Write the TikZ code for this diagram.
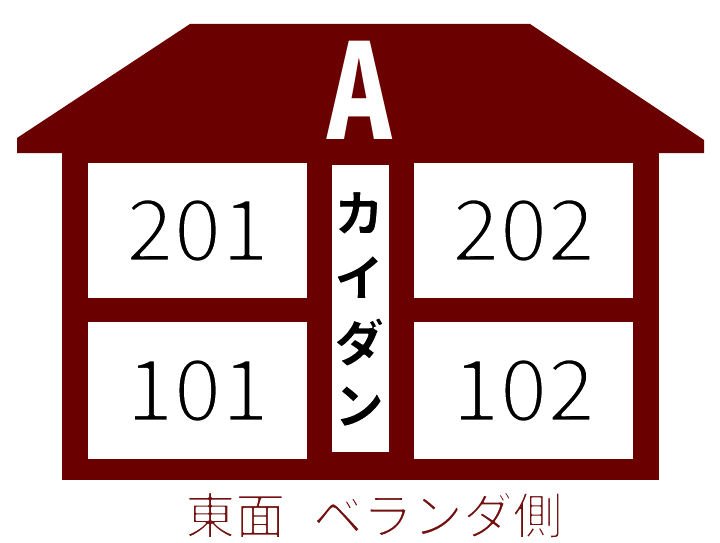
\documentclass[tikz,border=0pt]{standalone}
\usepackage{fontspec}
\newfontfamily\jp{Noto Sans CJK JP}
\definecolor{roof}{RGB}{107,0,0}
\definecolor{captionred}{RGB}{115,16,16}
% thin the glyphs by stroking them in white over their fill
\newcommand{\thinglyph}[2]{\special{pdf:code q 2 Tr 1 1 1 RG #1 w 1 J 1 j}#2\special{pdf:code Q}}
\begin{document}
\begin{tikzpicture}[x=1pt,y=-1pt,
  room/.style={fill=white, draw=none, inner sep=0, minimum width=219pt,
    font=\jp\fontsize{86}{86}\selectfont},
  kana/.style={font=\jp\bfseries\fontsize{50}{50}\selectfont, inner sep=0}]
\useasboundingbox (0,0) rectangle (720,543);
% roof and body
\fill[roof] (17,138) -- (190,24) -- (530,24) -- (704,140) -- (704,153) -- (17,153) -- cycle;
\fill[roof] (62,150) rectangle (659,480);
% rooms
\node[room, minimum height=135pt] (r201) at (197.5,230.5) {\thinglyph{3}{201}};
\node[room, minimum height=135pt] (r202) at (523.5,230.5) {\thinglyph{3}{202}};
\node[room, minimum height=137pt] (r101) at (197.5,390.5) {\thinglyph{3}{101}};
\node[room, minimum height=137pt] (r102) at (523.5,390.5) {\thinglyph{3}{102}};
% stairwell
\node[fill=white, inner sep=0, minimum width=57pt, minimum height=287pt] (stair) at (360.5,308.5) {};
\node[kana] (k1) at (359,213) {\thinglyph{1.5}{カ}};
\node[kana] (k2) at (359,277) {\thinglyph{1.5}{イ}};
\node[kana] (k3) at (359,342) {\thinglyph{1.5}{ダ}};
\node[kana] (k4) at (359,406) {\thinglyph{1.5}{ン}};
% letter A
\node[font=\jp\bfseries\fontsize{132}{132}\selectfont, text=white, inner sep=0] (A) at (360,90) {\scalebox{0.74}[1]{A}};
% caption
\node[text=captionred, font=\jp\fontsize{50}{50}\selectfont, inner sep=0] (caption) at (374,515) {\thinglyph{1.8}{東面\hspace{0.55em}ベランダ側}};
\end{tikzpicture}
\end{document}
